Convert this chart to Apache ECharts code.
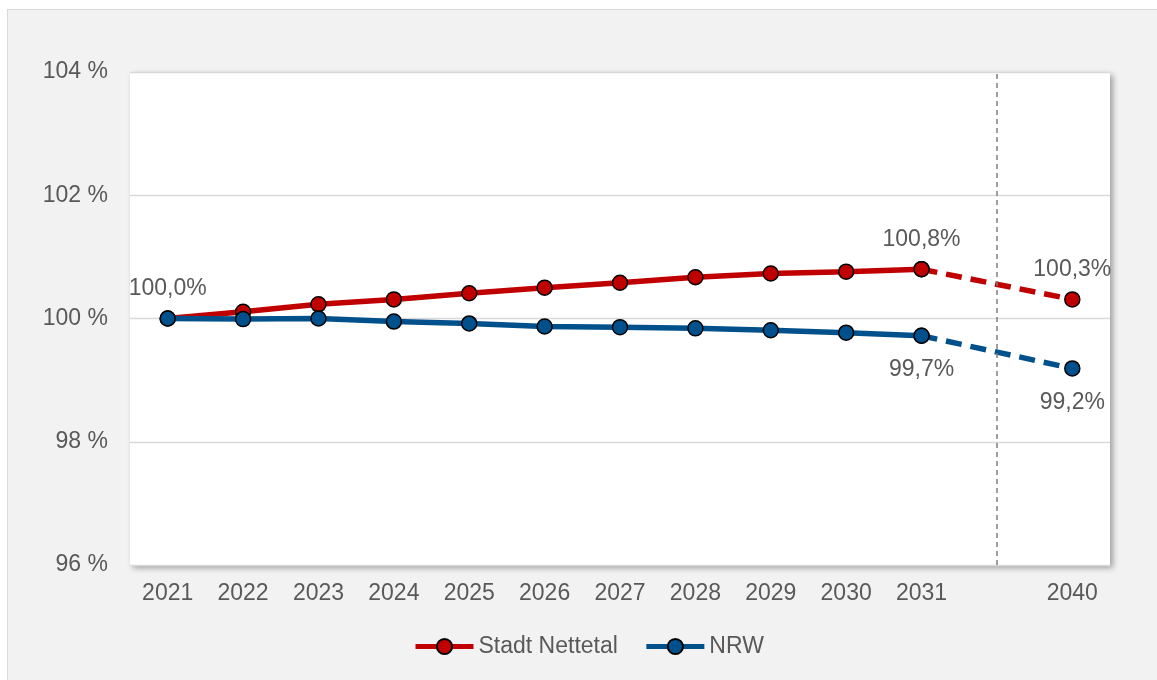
<!DOCTYPE html>
<html><head><meta charset="utf-8">
<script src="https://cdn.jsdelivr.net/npm/echarts@6/dist/echarts.min.js"></script>
<style>
html,body{margin:0;padding:0;width:1157px;height:680px;overflow:hidden;background:#fff;}
#bg{position:absolute;left:7px;top:9px;width:1170px;height:690px;background:#f2f2f2;border:1px solid #d9d9d9;}
#c{position:absolute;left:0;top:0;width:1157px;height:680px;}
</style></head>
<body><div id="bg"></div><div id="c"></div>
<script>
const categories = ['2021','2022','2023','2024','2025','2026','2027','2028','2029','2030','2031','','2040'];
const yTicks = [96, 98, 100, 102, 104];
const nettetal = [100.0, 100.11, 100.23, 100.31, 100.41, 100.50, 100.58, 100.67, 100.73, 100.76, 100.80];
const nettetal2040 = 100.31;
const nrw = [100.0, 99.99, 100.0, 99.95, 99.92, 99.87, 99.86, 99.84, 99.81, 99.77, 99.72];
const nrw2040 = 99.19;
const nettetalLabelIdx = [0, 10, 12];
const nrwLabelIdx = [10, 12];

const RED = '#c00000', BLUE = '#00508c';
const FONT = 'Liberation Sans, Arial, sans-serif';
const fmt = v => v.toFixed(1).replace('.', ',') + '%';
function dashed(arr, last){
  const d = categories.map(() => null);
  d[arr.length - 1] = arr[arr.length - 1];
  d[categories.length - 1] = last;
  return d;
}
function labelFor(idxs, pos, dist){
  return {
    show: true, position: pos, distance: dist, fontSize: 23, color: '#595959', fontFamily: FONT,
    formatter: p => (idxs.indexOf(p.dataIndex) >= 0 && p.value != null) ? fmt(p.value) : ''
  };
}
const sym = {symbol: 'circle', symbolSize: 15, itemStyle: {borderColor: '#000', borderWidth: 1.5}};

const chart = echarts.init(document.getElementById('c'), null, {renderer: 'canvas'});
chart.setOption({
  backgroundColor: 'transparent',
  animation: false,
  textStyle: {fontFamily: FONT},
  grid: {left: 130, right: 47, top: 72, bottom: 115, show: true, backgroundColor: '#fff',
    borderWidth: 0, shadowBlur: 6, shadowColor: 'rgba(0,0,0,0.35)', shadowOffsetX: 3, shadowOffsetY: 3},
  legend: {
    data: ['Stadt Nettetal', 'NRW'], left: 408, top: 630, itemWidth: 58, itemHeight: 19, itemGap: 26,
    textStyle: {fontSize: 23, color: '#595959', fontFamily: FONT},
    lineStyle: {width: 5, type: 'solid'}
  },
  xAxis: {
    type: 'category', data: categories, boundaryGap: true,
    axisLine: {show: false}, axisTick: {show: false},
    axisLabel: {fontSize: 23, color: '#595959', margin: 17, interval: 0, fontFamily: FONT}
  },
  yAxis: {
    type: 'value', min: yTicks[0], max: yTicks[yTicks.length - 1], interval: 2,
    axisLine: {show: false}, axisTick: {show: false},
    axisLabel: {fontSize: 23, color: '#595959', margin: 22, formatter: '{value} %', fontFamily: FONT},
    splitLine: {lineStyle: {color: '#d9d9d9', width: 1.3}}
  },
  series: [
    {name: 'Stadt Nettetal', type: 'line', z: 3, data: nettetal.slice(),
      lineStyle: {color: RED, width: 5.5}, color: RED, ...sym,
      label: labelFor(nettetalLabelIdx, 'top', 10),
      markLine: {silent: true, symbol: 'none', label: {show: false},
        lineStyle: {color: '#7f7f7f', width: 1.5, type: [5, 4]},
        data: [{xAxis: 11}]}},
    {name: 'NRW', type: 'line', z: 4, data: nrw.slice(),
      lineStyle: {color: BLUE, width: 5.5}, color: BLUE, ...sym,
      label: labelFor(nrwLabelIdx, 'bottom', 14)},
    {name: 'Stadt Nettetal', type: 'line', z: 2, data: dashed(nettetal, nettetal2040), connectNulls: true,
      lineStyle: {color: RED, width: 5.5, type: [16, 9]}, color: RED, ...sym,
      label: labelFor([12], 'top', 10)},
    {name: 'NRW', type: 'line', z: 2, data: dashed(nrw, nrw2040), connectNulls: true,
      lineStyle: {color: BLUE, width: 5.5, type: [16, 9]}, color: BLUE, ...sym,
      label: labelFor([12], 'bottom', 14)}
  ]
});
</script></body></html>
